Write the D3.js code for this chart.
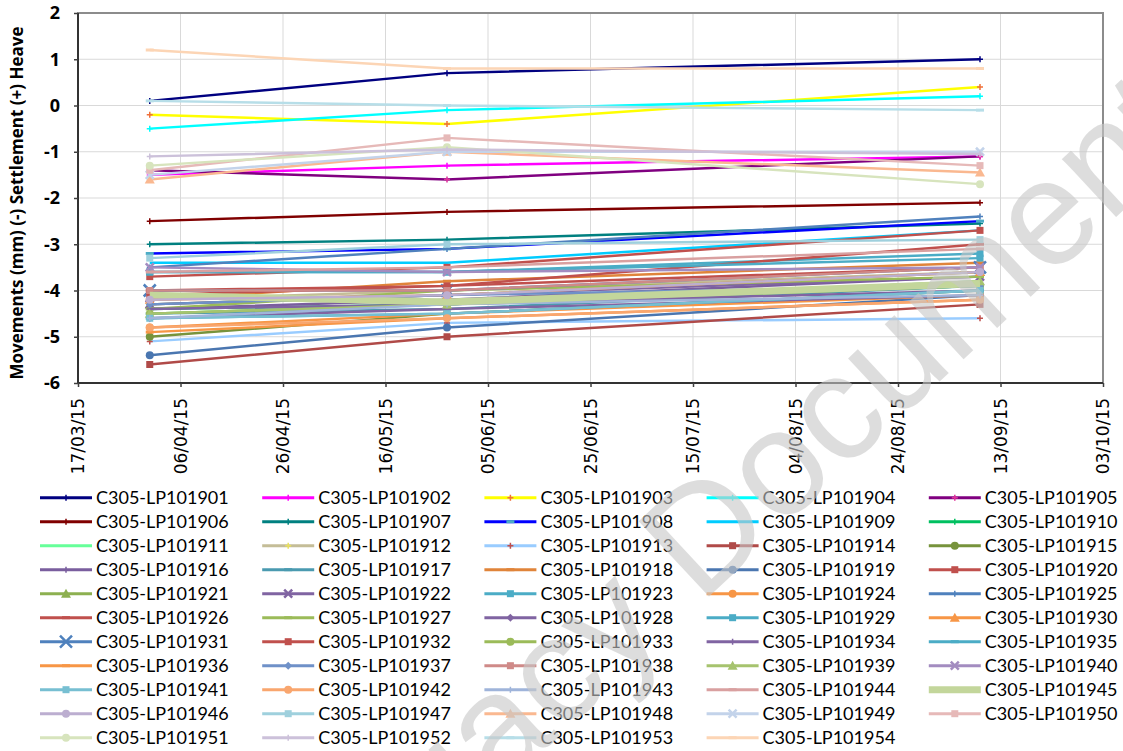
<!DOCTYPE html>
<meta charset="utf-8">
<style>
body { margin: 0; background: #fff; }
svg text { font-family: Lato, "Open Sans", sans-serif; }
.grid line { stroke: #d9d9d9; stroke-width: 1; }
.axis path { display: none; }
.axis line { stroke: #404040; stroke-width: 1.5; }
.axis text { fill: #000; }
.yaxis text { font-family: "Open Sans", sans-serif; font-size: 18px; font-weight: bold; }
.xaxis text { font-family: "DejaVu Sans", sans-serif; font-size: 17px; }
.ytitle { font-family: "Open Sans", sans-serif; font-size: 17px; font-weight: bold; }
.legend text { font-size: 18px; fill: #000; }
.series { fill: none; stroke-linejoin: round; }
.watermark { font-family: "Liberation Sans", sans-serif; font-size: 150px; fill: #c8c8c8; opacity: 0.6; }
</style>

<svg id="chart" width="1123" height="751"></svg>
<script src="https://d3js.org/d3.v7.min.js"></script>
<script>

// survey dates (one reading per date for each point)
var dates = ["31/03/15", "28/05/15", "09/09/15"];

var xTickLabels = ["17/03/15", "06/04/15", "26/04/15", "16/05/15", "05/06/15", "25/06/15",
                   "15/07/15", "04/08/15", "24/08/15", "13/09/15", "03/10/15"];
var yTicks = [-6, -5, -4, -3, -2, -1, 0, 1, 2];

var ids = [];
for (var n = 1901; n <= 1954; n++) ids.push("C305-LP10" + n);

// movements in mm at the three dates, same order as ids
var values = [
  [0.1, 0.7, 1.0],     // 1901
  [-1.5, -1.3, -1.1],  // 1902
  [-0.2, -0.4, 0.4],   // 1903
  [-0.5, -0.1, 0.2],   // 1904
  [-1.4, -1.6, -1.1],  // 1905
  [-2.5, -2.3, -2.1],  // 1906
  [-3.0, -2.9, -2.55], // 1907
  [-3.2, -3.1, -2.5],  // 1908
  [-3.4, -3.4, -2.7],  // 1909
  [-4.4, -4.3, -3.9],  // 1910
  [-4.5, -4.3, -3.8],  // 1911
  [-4.2, -4.0, -3.6],  // 1912
  [-5.1, -4.7, -4.6],  // 1913
  [-5.6, -5.0, -4.3],  // 1914
  [-5.0, -4.5, -4.0],  // 1915
  [-4.4, -4.2, -3.7],  // 1916
  [-4.5, -4.4, -3.9],  // 1917
  [-4.2, -3.8, -3.4],  // 1918
  [-5.4, -4.8, -4.1],  // 1919
  [-3.7, -3.5, -2.7],  // 1920
  [-4.3, -4.1, -3.6],  // 1921
  [-4.3, -4.1, -3.7],  // 1922
  [-3.6, -3.6, -3.2],  // 1923
  [-4.8, -4.5, -4.1],  // 1924
  [-3.5, -3.1, -2.4],  // 1925
  [-4.0, -3.9, -3.0],  // 1926
  [-4.4, -4.0, -3.7],  // 1927
  [-4.6, -4.4, -4.1],  // 1928
  [-3.6, -3.6, -3.3],  // 1929
  [-4.2, -4.1, -3.6],  // 1930
  [-4.0, -4.0, -3.5],  // 1931
  [-4.1, -3.9, -3.5],  // 1932
  [-4.5, -4.3, -3.9],  // 1933
  [-4.4, -4.3, -4.0],  // 1934
  [-4.6, -4.5, -4.0],  // 1935
  [-4.9, -4.6, -4.2],  // 1936
  [-4.3, -4.1, -3.9],  // 1937
  [-4.0, -4.0, -3.5],  // 1938
  [-4.5, -4.3, -3.8],  // 1939
  [-3.5, -3.6, -3.5],  // 1940
  [-4.6, -4.5, -4.0],  // 1941
  [-4.8, -4.6, -4.2],  // 1942
  [-4.6, -4.3, -4.1],  // 1943
  [-3.6, -3.5, -3.1],  // 1944
  [-4.1, -4.25, -3.85],// 1945
  [-4.2, -4.1, -3.6],  // 1946
  [-3.3, -3.0, -2.9],  // 1947
  [-1.6, -1.0, -1.45], // 1948
  [-1.5, -1.0, -1.0],  // 1949
  [-1.4, -0.7, -1.3],  // 1950
  [-1.3, -0.9, -1.7],  // 1951
  [-1.1, -0.95, -1.05],// 1952
  [0.1, 0.0, -0.1],    // 1953
  [1.2, 0.8, 0.8]      // 1954
];

// styles per series
var colors = [
  "#000080", "#ff00ff", "#ffff00", "#00ffff", "#800080",
  "#800000", "#008080", "#0000ff", "#00ccff", "#00c060",
  "#66ff99", "#c4bd97", "#99ccff", "#b04a48", "#77933c",
  "#7a5e9e", "#4a9ab0", "#e0843a", "#4a76b0", "#c0504d",
  "#8db050", "#8064a2", "#4bacc6", "#f79646", "#4f81bd",
  "#c0504d", "#9bbb59", "#8064a2", "#4bacc6", "#f79646",
  "#4f81bd", "#c0504d", "#9bbb59", "#8064a2", "#4bacc6",
  "#f79646", "#6f91c8", "#cf8a88", "#a6c36e", "#a38cc0",
  "#77bfd2", "#f9a66e", "#9fb4da", "#d9a0a0", "#c3d69b",
  "#bcaed0", "#9fd0dd", "#fab890", "#c3d3ea", "#e6b9b8",
  "#d7e4bd", "#ccc1da", "#b7dee8", "#fcd5b5"
];
var markers = [
  "plus", "plus", "plus", "plus", "plus",
  "plus", "plus", "dash", "none", "plus",
  "none", "plus", "plus", "square", "circle",
  "plus", "dash", "dash", "circle", "square",
  "triangle", "x", "square", "circle", "plus",
  "dash", "dash", "diamond", "square", "triangle",
  "bigx", "square", "circle", "plus", "dash",
  "dash", "diamond", "square", "triangle", "x",
  "square", "circle", "plus", "dash", "none",
  "circle", "square", "triangle", "x", "square",
  "circle", "plus", "dash", "dash"
];
var markerColors = { 2: "#f0703a", 4: "#e0309a", 12: "#c0504d", 7: "#4bacc6", 11: "#e8e060" };

var svg = d3.select("#chart");
var plotLeft = 78, plotRight = 1103, plotTop = 13, plotBottom = 383;

var parse = d3.timeParse("%d/%m/%y");
var x = d3.scaleTime()
    .domain([parse(xTickLabels[0]), parse(xTickLabels[xTickLabels.length - 1])])
    .range([plotLeft, plotRight]);
var y = d3.scaleLinear().domain([-6, 2]).range([plotBottom, plotTop]);

// gridlines
var grid = svg.append("g").attr("class", "grid");
grid.selectAll(".h").data(yTicks).enter().append("line")
    .attr("x1", plotLeft).attr("x2", plotRight)
    .attr("y1", function(d) { return y(d); }).attr("y2", function(d) { return y(d); });
grid.selectAll(".v").data(xTickLabels).enter().append("line")
    .attr("x1", function(d) { return x(parse(d)); }).attr("x2", function(d) { return x(parse(d)); })
    .attr("y1", plotTop).attr("y2", plotBottom);

// plot frame
svg.append("rect")
    .attr("x", plotLeft).attr("y", plotTop).attr("width", plotRight - plotLeft).attr("height", plotBottom - plotTop)
    .attr("fill", "none").attr("stroke", "#8c8c8c").attr("stroke-width", 2);
svg.append("line").attr("x1", plotLeft).attr("x2", plotLeft).attr("y1", plotTop).attr("y2", plotBottom)
    .attr("stroke", "#333").attr("stroke-width", 2);
svg.append("line").attr("x1", plotLeft).attr("x2", plotRight).attr("y1", plotBottom).attr("y2", plotBottom)
    .attr("stroke", "#333").attr("stroke-width", 2);

// axes
svg.append("g").attr("class", "axis yaxis")
    .attr("transform", "translate(" + plotLeft + ",0)")
    .call(d3.axisLeft(y).tickValues(yTicks).tickSize(4).tickPadding(14)
      .tickFormat(function(d) { return String(d); }));

var xAxis = svg.append("g").attr("class", "axis xaxis")
    .attr("transform", "translate(0," + plotBottom + ")")
    .call(d3.axisBottom(x).tickValues(xTickLabels.map(parse)).tickSize(4)
      .tickFormat(d3.timeFormat("%d/%m/%y")));
xAxis.selectAll("text")
    .attr("transform", "rotate(-90)")
    .attr("text-anchor", "end")
    .attr("x", -15).attr("y", 0).attr("dy", "0.35em");

svg.append("text").attr("class", "ytitle")
    .attr("transform", "translate(23,203) rotate(-90)")
    .attr("text-anchor", "middle")
    .text("Movements (mm) (-) Settlement (+) Heave");

// marker drawing
function drawMarker(g, type, cx, cy, col) {
  var s;
  if (type === "plus") {
    g.append("path").attr("d", "M" + (cx - 3) + "," + cy + "h6M" + cx + "," + (cy - 3) + "v6")
      .attr("stroke", col).attr("stroke-width", 1.5);
  } else if (type === "dash") {
    g.append("path").attr("d", "M" + (cx - 4) + "," + cy + "h8")
      .attr("stroke", col).attr("stroke-width", 3);
  } else if (type === "square") {
    g.append("rect").attr("x", cx - 3.5).attr("y", cy - 3.5).attr("width", 7).attr("height", 7).attr("fill", col);
  } else if (type === "circle") {
    g.append("circle").attr("cx", cx).attr("cy", cy).attr("r", 4).attr("fill", col);
  } else if (type === "triangle") {
    s = 5;
    g.append("path").attr("d", "M" + cx + "," + (cy - s) + "L" + (cx + s) + "," + (cy + s * 0.8) + "L" + (cx - s) + "," + (cy + s * 0.8) + "Z")
      .attr("fill", col);
  } else if (type === "diamond") {
    s = 4;
    g.append("path").attr("d", "M" + cx + "," + (cy - s) + "L" + (cx + s) + "," + cy + "L" + cx + "," + (cy + s) + "L" + (cx - s) + "," + cy + "Z")
      .attr("fill", col);
  } else if (type === "x" || type === "bigx") {
    s = type === "bigx" ? 6 : 4;
    g.append("path").attr("d", "M" + (cx - s) + "," + (cy - s) + "L" + (cx + s) + "," + (cy + s) + "M" + (cx - s) + "," + (cy + s) + "L" + (cx + s) + "," + (cy - s))
      .attr("stroke", col).attr("stroke-width", 2.5);
  }
}

function lineWidth(i) {
  if (i === 44) return 7;
  return 2.5;
}

var line = d3.line()
    .x(function(d, j) { return x(parse(dates[j])); })
    .y(function(d) { return y(d); });

var plot = svg.append("g");
ids.forEach(function(id, i) {
  var g = plot.append("g");
  g.append("path").attr("class", "series")
    .attr("d", line(values[i]))
    .attr("stroke", colors[i])
    .attr("stroke-width", lineWidth(i));
  var mc = markerColors[i] || colors[i];
  values[i].forEach(function(v, j) {
    drawMarker(g, markers[i], x(parse(dates[j])), y(v), mc);
  });
});

// legend
var legend = svg.append("g").attr("class", "legend");
ids.forEach(function(id, i) {
  var col = i % 5, row = Math.floor(i / 5);
  var lx = 40 + col * 222.2, ly = 497.7 + row * 24;
  var g = legend.append("g");
  g.append("line").attr("x1", lx).attr("x2", lx + 52).attr("y1", ly).attr("y2", ly)
    .attr("stroke", colors[i]).attr("stroke-width", i === 44 ? 7 : 3);
  drawMarker(g, markers[i], lx + 26, ly, markerColors[i] || colors[i]);
  g.append("text").attr("x", lx + 56).attr("y", ly).attr("dy", "0.35em").text(id);
});

// watermark
var wm = svg.append("g").attr("transform", "translate(700,605) rotate(-43)");
wm.append("text").attr("class", "watermark").attr("text-anchor", "end").text("Legacy\u00a0");
wm.append("text").attr("class", "watermark").attr("text-anchor", "start").text("Document");

</script>
